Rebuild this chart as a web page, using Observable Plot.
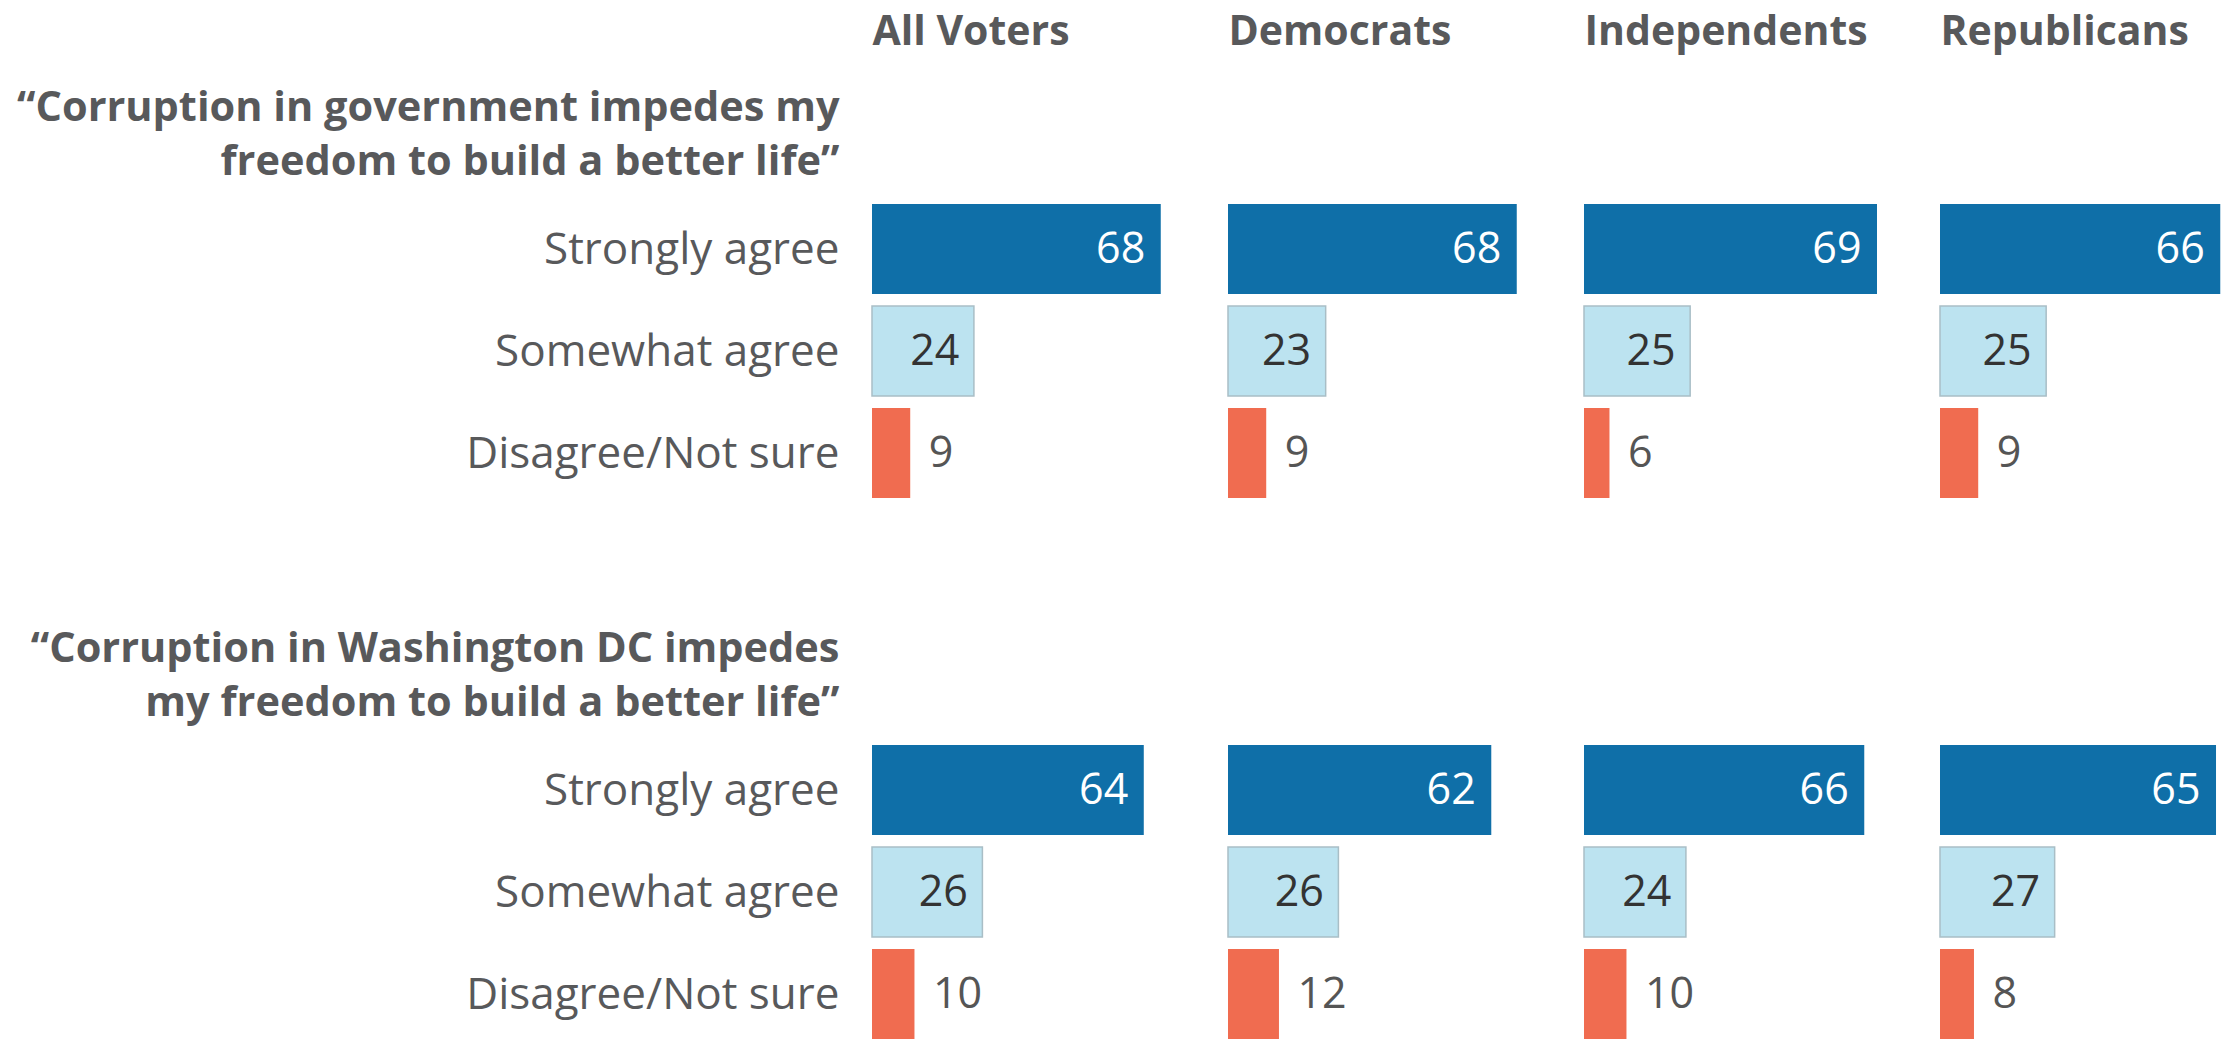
<!DOCTYPE html>
<html>
<head>
<meta charset="utf-8">
<script src="https://cdn.jsdelivr.net/npm/d3@7"></script>
<script src="https://cdn.jsdelivr.net/npm/@observablehq/plot@0.6"></script>
<style>
  html, body { margin: 0; padding: 0; background: #fff; }
  #chart svg { display: block; }
</style>
</head>
<body>
<div id="chart"></div>
<script>
const groups = ["All Voters", "Democrats", "Independents", "Republicans"];
const questions = [
  "“Corruption in government impedes my\nfreedom to build a better life”",
  "“Corruption in Washington DC impedes\nmy freedom to build a better life”"
];
const responses = ["Strongly agree", "Somewhat agree", "Disagree/Not sure"];

const q1Strongly = [68, 68, 69, 66];
const q1Somewhat = [24, 23, 25, 25];
const q1Disagree = [9, 9, 6, 9];
const q2Strongly = [64, 62, 66, 65];
const q2Somewhat = [26, 26, 24, 27];
const q2Disagree = [10, 12, 10, 8];

const seriesByQuestion = [
  [q1Strongly, q1Somewhat, q1Disagree],
  [q2Strongly, q2Somewhat, q2Disagree]
];

const data = [];
questions.forEach((q, qi) => {
  responses.forEach((r, ri) => {
    groups.forEach((g, gi) => {
      data.push({question: q, response: r, group: g, value: seriesByQuestion[qi][ri][gi]});
    });
  });
});
const byResp = r => data.filter(d => d.response === r);

const FONT = "'Open Sans', sans-serif";
const GREY = "#58595b";

const chart = Plot.plot({
  width: 2236,
  height: 1043,
  marginLeft: 871,
  marginRight: 2.6,
  marginTop: 80,
  marginBottom: 2.7,
  style: {fontFamily: FONT, background: "#fff"},
  fx: {domain: groups, paddingInner: 0.1763, paddingOuter: 0, axis: null},
  fy: {domain: questions, paddingInner: 0.225, paddingOuter: 0, axis: null},
  x: {domain: [0, 69], axis: null},
  y: {domain: responses, paddingInner: 0.12, paddingOuter: 0, insetTop: 122.7, axis: null},
  marks: [
    Plot.barX(byResp("Strongly agree"), {fx: "group", fy: "question", y: "response", x: "value", fill: "#0f6fa8"}),
    Plot.barX(byResp("Somewhat agree"), {fx: "group", fy: "question", y: "response", x: "value", fill: "#bce3f0", stroke: "#a9bec6", strokeWidth: 1.5}),
    Plot.barX(byResp("Disagree/Not sure"), {fx: "group", fy: "question", y: "response", x: "value", fill: "#f06c50"}),
    Plot.text(byResp("Strongly agree"), {fx: "group", fy: "question", y: "response", x: "value", text: d => String(d.value), textAnchor: "end", dx: -16, fill: "#ffffff", fontSize: 43}),
    Plot.text(byResp("Somewhat agree"), {fx: "group", fy: "question", y: "response", x: "value", text: d => String(d.value), textAnchor: "end", dx: -15, fill: "#333333", fontSize: 43}),
    Plot.text(byResp("Disagree/Not sure"), {fx: "group", fy: "question", y: "response", x: "value", text: d => String(d.value), textAnchor: "start", dx: 18, fill: "#555555", fontSize: 43}),
    Plot.axisY({tickSize: 0, tickPadding: 33, fontSize: 44, color: GREY, label: null}),
    Plot.text(questions, {fx: () => groups[0], fy: d => d, text: d => d, frameAnchor: "top-left", textAnchor: "end", lineAnchor: "top", dx: -33, dy: 2, fontWeight: "bold", fontSize: 41.5, lineHeight: 1.3, fill: GREY}),
    Plot.text(groups, {fx: d => d, fy: () => questions[0], text: d => d, frameAnchor: "top-left", textAnchor: "start", lineAnchor: "top", dy: -65, fontWeight: "bold", fontSize: 41, fill: GREY})
  ]
});
document.getElementById("chart").appendChild(chart);
</script>
</body>
</html>
